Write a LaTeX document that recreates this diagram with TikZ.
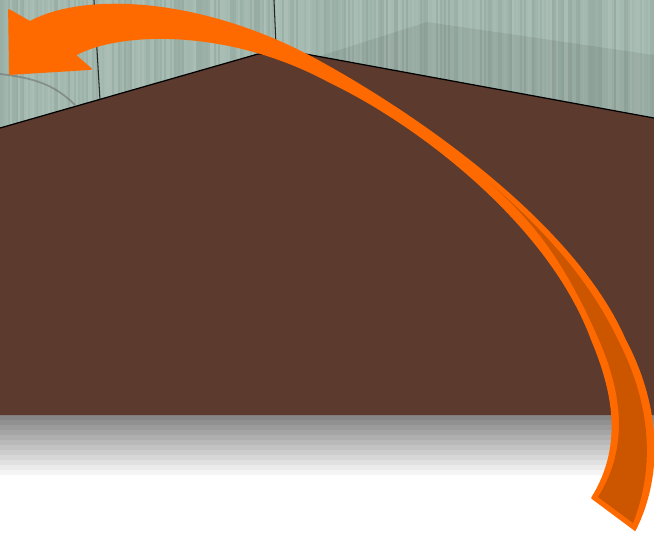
\documentclass[tikz,border=0pt]{standalone}
\usepackage{tikz}
\usetikzlibrary{calc}
\definecolor{wallgreen}{HTML}{9FB6AC}
\definecolor{floorbrown}{HTML}{5C3A2E}
\definecolor{arroworange}{HTML}{FF6A00}
\definecolor{taildark}{HTML}{CC5500}
\tikzset{
  wallseam/.style={black!85,line width=0.3pt},
  flooredge/.style={black,line width=0.35pt},
  arrowbody/.style={fill=arroworange,draw=arroworange,line width=0.5pt,line join=round},
}
\begin{document}
\begin{tikzpicture}[x=0.01cm,y=-0.01cm]
  \useasboundingbox (0,0) rectangle (654,532);
  \clip (0,0) rectangle (654,532);
  % ---------- wall with vertical stripes
  \fill[wallgreen] (0,0) rectangle (654,135);
  \pgfmathsetseed{11}
  \foreach \k in {0,...,327}{
    \pgfmathsetmacro{\wallx}{2*\k}
    \pgfmathsetmacro{\wallop}{0.02+0.11*rnd}
    \pgfmathtruncatemacro{\wallpick}{rnd<0.55 ? 0 : 1}
    \ifnum\wallpick=0
      \fill[white,opacity=\wallop] (\wallx,0) rectangle ++(2,135);
    \else
      \fill[black!60,opacity=\wallop] (\wallx,0) rectangle ++(2,135);
    \fi}
  \fill[black,opacity=0.07] (320,56) -- (427,22) -- (654,55) -- (654,120) -- cycle;
  \draw[wallseam] (94,0) -- (100,100);
  \draw[wallseam] (274,0) -- (276,45);
  \draw[black!60,opacity=0.5,line width=0.5pt] (0,74) .. controls (35,78) and (55,85) .. (75,105);
  % ---------- floor and the fade below it
  \fill[white] (0,415) rectangle (654,532);
  \foreach \k in {0,...,12}{
    \pgfmathsetmacro{\fadegray}{53+\k*47/12}
    \fill[white!\fadegray!black] (0,415+5*\k) rectangle (654,420+5*\k);}
  \fill[floorbrown] (0,128) -- (258,54) -- (300,53) -- (654,118) -- (654,415) -- (0,415) -- cycle;
  \draw[flooredge] (0,128) -- (258,54) -- (300,53) -- (654,118);
  % ---------- curved arrow
  \path[arrowbody] (91,69) -- (75,55)
    .. controls (115,32) and (225,25) .. (330,82)
    .. controls (420,125) and (550,225) .. (592,340)
    .. controls (613,390) and (625,445) .. (592,498)
    -- (635,530)
    .. controls (665,470) and (657,400) .. (625,340)
    .. controls (575,225) and (420,117) .. (320,62)
    .. controls (205,-2) and (85,-8) .. (30,22)
    -- (9,10) -- (10,74) -- cycle;
  \fill[taildark] (490,183)
    .. controls (530,218) and (585,270) .. (618,340)
    .. controls (650,402) and (656,465) .. (633,523)
    -- (598,497)
    .. controls (631,445) and (620,388) .. (599,340)
    .. controls (560,250) and (525,215) .. (490,183)
    -- cycle;
\end{tikzpicture}
\end{document}
